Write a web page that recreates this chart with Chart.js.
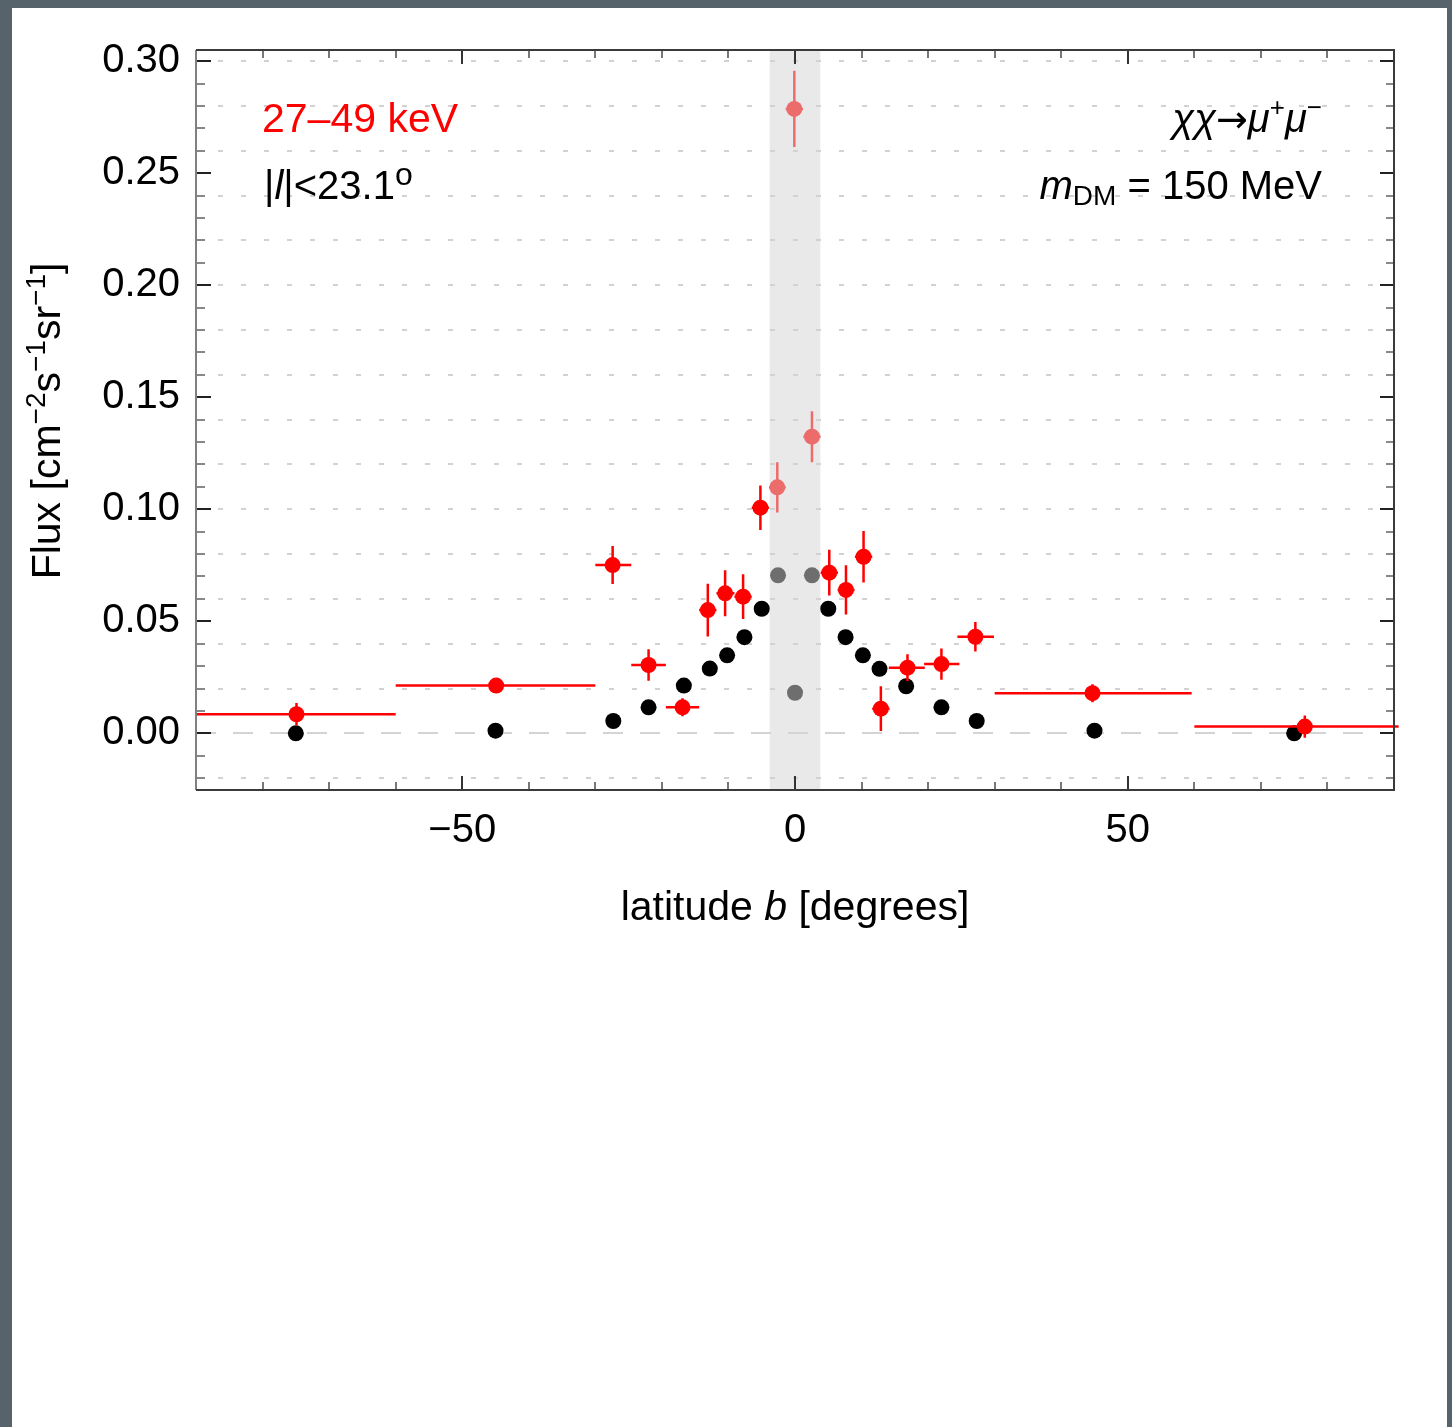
<!DOCTYPE html>
<html>
<head>
<meta charset="utf-8">
<title>Flux vs latitude</title>
<script src="https://cdn.jsdelivr.net/npm/chart.js@4.4.1/dist/chart.umd.min.js"></script>
<style>
    html, body {
        margin: 0;
        padding: 0;
        width: 1452px;
        height: 1427px;
        background: #56636a;
        overflow: hidden;
    }
    .panel {
        position: absolute;
        left: 12px;
        top: 8px;
        width: 1435px;
        height: 1419px;
        background: #ffffff;
    }
    #fluxChart {
        position: absolute;
        left: 0;
        top: 0;
    }
</style>
</head>
<body>
<div class="panel">
    <canvas id="fluxChart" width="1435" height="1000"></canvas>
</div>

<script>
// Measured flux (red points) per latitude bin
const dataLat  = [-74.9, -44.9, -27.4, -22.0, -16.9, -13.1, -10.5, -7.8, -5.2, -2.66, -0.1, 2.55, 5.15, 7.66, 10.3, 12.9, 16.9, 22.0, 27.1, 44.7, 76.6];
const dataFlux = [0.0085, 0.0213, 0.0751, 0.0305, 0.0116, 0.0550, 0.0625, 0.0610, 0.1007, 0.1098, 0.2787, 0.1324, 0.0717, 0.0640, 0.0788, 0.0110, 0.0293, 0.0309, 0.0431, 0.0179, 0.0030];
const dataErr  = [0.0050, 0.0020, 0.0085, 0.0070, 0.0040, 0.0118, 0.0103, 0.0100, 0.0099, 0.0112, 0.0170, 0.0114, 0.0102, 0.0110, 0.0115, 0.0100, 0.0060, 0.0070, 0.0066, 0.0040, 0.0050];
const binLo    = [-90, -60, -30, -24.6, -19.4, -14.4, -11.8, -9.1, -6.5, -3.9, -1.4, 1.25, 3.85, 6.4, 9.0, 11.6, 14.1, 19.4, 24.4, 30, 60];
const binHi    = [-60, -30, -24.6, -19.4, -14.4, -11.8, -9.1, -6.5, -3.9, -1.4, 1.2, 3.85, 6.45, 8.95, 11.6, 14.2, 19.5, 24.7, 29.9, 59.6, 90.7];

// Dark matter model prediction (black points)
const modelLat  = [-75, -45, -27.3, -22.0, -16.7, -12.8, -10.2, -7.6, -5.0, -2.55, 0, 2.55, 5.0, 7.6, 10.2, 12.7, 16.7, 22.0, 27.3, 45, 75];
const modelFlux = [0.0000, 0.0012, 0.0055, 0.0116, 0.0213, 0.0289, 0.0348, 0.0429, 0.0556, 0.0705, 0.0181, 0.0705, 0.0556, 0.0429, 0.0348, 0.0288, 0.0210, 0.0116, 0.0055, 0.0012, 0.0000];

// Masked region around the plane
const bandLat = [-3.8, 3.8];

// Axes
const xRange = [-90, 90];
const yRange = [-0.0253, 0.305];
const xTicks = [-50, 0, 50];
const xTickLabels = ['\u221250', '0', '50'];
const yTicks = [0, 0.05, 0.10, 0.15, 0.20, 0.25, 0.30];
const yTickLabels = ['0.00', '0.05', '0.10', '0.15', '0.20', '0.25', '0.30'];

const FONT = '"Liberation Sans", Arial, sans-serif';
const RED = '#ff0000';
const PINK = '#ec6c6c';

function inBand(lat) {
    return lat > bandLat[0] && lat < bandLat[1];
}

// Draw a line of text made of parts: {t, i (italic), size, dy, f (family)}
function drawRich(ctx, parts, x, y, align, color) {
    const fontOf = p => (p.i ? 'italic ' : '') + (p.size || 40) + 'px ' + (p.f || FONT);
    let total = 0;
    parts.forEach(p => {
        ctx.font = fontOf(p);
        total += ctx.measureText(p.t).width;
    });
    let cx = x;
    if (align === 'right') cx = x - total;
    if (align === 'center') cx = x - total / 2;
    ctx.fillStyle = color;
    ctx.textAlign = 'left';
    ctx.textBaseline = 'alphabetic';
    parts.forEach(p => {
        ctx.font = fontOf(p);
        ctx.fillText(p.t, cx, y + (p.dy || 0));
        cx += ctx.measureText(p.t).width;
    });
}

// Band, dotted grid lines and zero line under the points
const backgroundPlugin = {
    id: 'background',
    beforeDatasetsDraw(chart) {
        const { ctx, chartArea: a, scales: { x, y } } = chart;
        ctx.save();
        ctx.fillStyle = '#e9e9e9';
        const b0 = x.getPixelForValue(bandLat[0]);
        const b1 = x.getPixelForValue(bandLat[1]);
        ctx.fillRect(b0, a.top, b1 - b0, a.bottom - a.top);

        ctx.strokeStyle = '#d2d2d2';
        ctx.lineWidth = 2;
        ctx.setLineDash([5, 18]);
        ctx.lineDashOffset = 1;
        for (let k = -1; k <= 15; k++) {
            if (k === 0) continue;
            const py = Math.round(y.getPixelForValue(k * 0.02));
            ctx.beginPath();
            ctx.moveTo(a.left, py);
            ctx.lineTo(a.right, py);
            ctx.stroke();
        }

        ctx.strokeStyle = '#d4d4d4';
        ctx.setLineDash([20, 17]);
        ctx.lineDashOffset = 0;
        const z = Math.round(y.getPixelForValue(0));
        ctx.beginPath();
        ctx.moveTo(a.left, z);
        ctx.lineTo(a.right, z);
        ctx.stroke();
        ctx.restore();
    },
    // error bars of the measured points, drawn just before the red markers
    beforeDatasetDraw(chart, args) {
        if (args.index !== 0) return;
        const { ctx, scales: { x, y } } = chart;
        ctx.save();
        ctx.lineWidth = 2.5;
        dataLat.forEach((lat, i) => {
            ctx.strokeStyle = inBand(lat) ? PINK : RED;
            const px = x.getPixelForValue(lat);
            const py = y.getPixelForValue(dataFlux[i]);
            ctx.beginPath();
            ctx.moveTo(x.getPixelForValue(binLo[i]), py);
            ctx.lineTo(x.getPixelForValue(binHi[i]), py);
            ctx.moveTo(px, y.getPixelForValue(dataFlux[i] - dataErr[i]));
            ctx.lineTo(px, y.getPixelForValue(dataFlux[i] + dataErr[i]));
            ctx.stroke();
        });
        ctx.restore();
    }
};

// Frame with inward ticks, labels inside the plot and axis titles
const framePlugin = {
    id: 'frame',
    afterDatasetsDraw(chart) {
        const { ctx, chartArea: a, scales: { x, y } } = chart;
        ctx.save();
        ctx.lineWidth = 2;

        // horizontal ticks (left / right), every 0.01
        for (let k = -2; k <= 30; k++) {
            const py = Math.round(y.getPixelForValue(k / 100));
            const major = k % 5 === 0;
            ctx.strokeStyle = major ? '#222' : '#888';
            ctx.beginPath();
            ctx.moveTo(a.left, py);
            ctx.lineTo(a.left + (major ? 15 : 9), py);
            ctx.moveTo(a.right, py);
            ctx.lineTo(a.right - (major ? 14 : 8), py);
            ctx.stroke();
        }
        // vertical ticks (bottom / top), every 10 degrees
        for (let d = -80; d <= 80; d += 10) {
            const px = Math.round(x.getPixelForValue(d));
            const major = d % 50 === 0;
            ctx.strokeStyle = major ? '#333' : '#777';
            ctx.beginPath();
            ctx.moveTo(px, a.bottom);
            ctx.lineTo(px, a.bottom - (major ? 14 : 8));
            ctx.moveTo(px, a.top);
            ctx.lineTo(px, a.top + (major ? 14 : 8));
            ctx.stroke();
        }

        // frame
        ctx.strokeStyle = '#808080';
        ctx.beginPath();
        ctx.moveTo(a.left, a.top);
        ctx.lineTo(a.left, a.bottom);
        ctx.stroke();
        ctx.strokeStyle = '#3a3a3a';
        ctx.beginPath();
        ctx.moveTo(a.left, a.bottom);
        ctx.lineTo(a.right, a.bottom);
        ctx.lineTo(a.right, a.top);
        ctx.lineTo(a.left, a.top);
        ctx.stroke();

        // labels inside the plot
        drawRich(ctx, [{ t: '27\u201349 keV', size: 41 }], a.left + 66, a.top + 82, 'left', RED);
        drawRich(ctx, [
            { t: '|' }, { t: 'l', i: true }, { t: '|<23.1' },
            { t: 'o', size: 32, dy: -14 }
        ], a.left + 68, a.top + 149, 'left', '#000');
        drawRich(ctx, [
            { t: '\u03c7\u03c7', i: true },
            { t: '\u2192', f: '"DejaVu Sans", sans-serif', size: 38 },
            { t: '\u03bc', i: true }, { t: '+', size: 26, dy: -16 },
            { t: '\u03bc', i: true }, { t: '\u2212', size: 26, dy: -16 }
        ], a.right - 72, a.top + 82, 'right', '#000');
        drawRich(ctx, [
            { t: 'm', i: true }, { t: 'DM', size: 28, dy: 6 },
            { t: ' = 150 MeV' }
        ], a.right - 72, a.top + 149, 'right', '#000');

        // axis titles
        drawRich(ctx, [
            { t: 'latitude ', size: 41 }, { t: 'b', i: true, size: 41 }, { t: ' [degrees]', size: 41 }
        ], (a.left + a.right) / 2, a.bottom + 130, 'center', '#000');

        ctx.translate(48, (a.top + a.bottom) / 2 + 1);
        ctx.rotate(-Math.PI / 2);
        drawRich(ctx, [
            { t: 'Flux [cm', size: 41 }, { t: '\u22122', size: 28, dy: -15 },
            { t: 's', size: 41 }, { t: '\u22121', size: 28, dy: -15 },
            { t: 'sr', size: 41 }, { t: '\u22121', size: 28, dy: -15 },
            { t: ']', size: 41 }
        ], 0, 0, 'center', '#000');
        ctx.restore();
    }
};

document.addEventListener('DOMContentLoaded', function() {
    const ctx = document.getElementById('fluxChart').getContext('2d');

    new Chart(ctx, {
        type: 'scatter',
        data: {
            datasets: [{
                label: 'Data',
                data: dataLat.map((lat, i) => ({ x: lat, y: dataFlux[i] })),
                pointRadius: 8,
                pointHoverRadius: 8,
                pointBorderWidth: 0,
                pointBackgroundColor: dataLat.map(lat => inBand(lat) ? PINK : RED)
            }, {
                label: 'Model',
                data: modelLat.map((lat, i) => ({ x: lat, y: modelFlux[i] })),
                pointRadius: 8,
                pointHoverRadius: 8,
                pointBorderWidth: 0,
                pointBackgroundColor: modelLat.map(lat => inBand(lat) ? '#6e6e6e' : '#000000')
            }]
        },
        options: {
            responsive: false,
            animation: false,
            events: [],
            layout: {
                padding: { left: 0, top: 42, right: 53, bottom: 0 }
            },
            plugins: {
                legend: { display: false },
                tooltip: { enabled: false }
            },
            scales: {
                x: {
                    type: 'linear',
                    min: xRange[0],
                    max: xRange[1],
                    afterBuildTicks: scale => { scale.ticks = xTicks.map(v => ({ value: v })); },
                    afterFit: scale => { scale.height = 218; },
                    grid: { display: false, drawTicks: false, tickLength: 0 },
                    border: { display: false },
                    ticks: {
                        padding: 17,
                        color: '#000',
                        font: { family: FONT, size: 40 },
                        maxRotation: 0,
                        autoSkip: false,
                        callback: (v, i) => xTickLabels[xTicks.indexOf(v)]
                    }
                },
                y: {
                    type: 'linear',
                    min: yRange[0],
                    max: yRange[1],
                    afterBuildTicks: scale => { scale.ticks = yTicks.map(v => ({ value: v })); },
                    afterFit: scale => { scale.width = 184; },
                    grid: { display: false, drawTicks: false, tickLength: 0 },
                    border: { display: false },
                    ticks: {
                        padding: 16,
                        color: '#000',
                        font: { family: FONT, size: 40 },
                        autoSkip: false,
                        callback: (v, i) => yTickLabels[yTicks.indexOf(v)]
                    }
                }
            }
        },
        plugins: [backgroundPlugin, framePlugin]
    });
});
</script>
</body>
</html>
